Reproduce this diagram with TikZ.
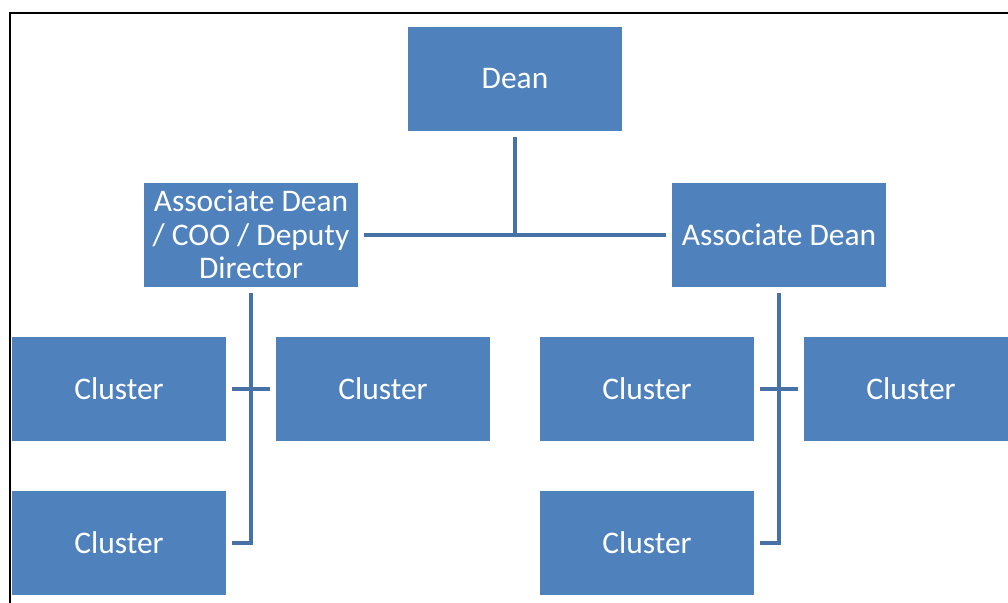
\documentclass[tikz,border=0pt]{standalone}
\usepackage{fontspec}
\setmainfont{Carlito}
\definecolor{boxblue}{HTML}{4F81BD}
\definecolor{lineblue}{HTML}{4672A8}
\begin{document}
\begin{tikzpicture}[x=0.75pt,y=-0.75pt,
  orgbox/.style={fill=boxblue,draw=none,minimum width=160.5pt,minimum height=78pt,
    inner sep=0pt,text=white,align=center,font=\fontsize{23.6}{25}\selectfont},
  conn/.style={draw=lineblue,line width=3pt,shorten <=4.5pt,shorten >=4.5pt}]
\clip (0,0) rectangle (1008,603);
\fill[white] (0,0) rectangle (1008,603);
\coordinate (fa) at (1008,13);
\coordinate (fb) at (10,13);
\coordinate (fc) at (10,603);
\draw[black,line width=1.8pt] (fa) -- (fb) -- (fc);

\node[orgbox] (dean) at (515,79) {Dean};
\node[orgbox] (ad1) at (251,234.5) {Associate Dean\\/ COO / Deputy\\Director};
\node[orgbox] (ad2) at (779,234.5) {Associate Dean};
\node[orgbox] (c1) at (119,388.5) {Cluster};
\node[orgbox] (c2) at (383,388.5) {Cluster};
\node[orgbox] (c3) at (647,388.5) {Cluster};
\node[orgbox] (c4) at (911,388.5) {Cluster};
\node[orgbox] (c5) at (119,543) {Cluster};
\node[orgbox] (c6) at (647,543) {Cluster};

\draw[conn] (ad1.east) -- (ad2.west);
\draw[conn,shorten >=0pt] (dean.south) -- (dean.south |- ad1.east);
\draw[conn] (ad1.south) |- (c5.east);
\draw[conn] (c1.east) -- (c2.west);
\draw[conn] (ad2.south) |- (c6.east);
\draw[conn] (c3.east) -- (c4.west);
\end{tikzpicture}
\end{document}
